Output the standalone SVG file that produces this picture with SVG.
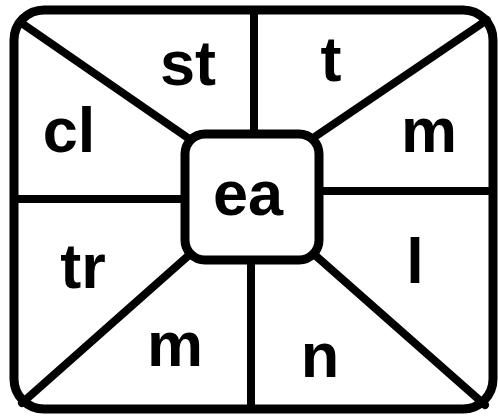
<svg xmlns="http://www.w3.org/2000/svg" width="498" height="417" viewBox="0 0 498 417">
<style>
.box{fill:#fff;stroke:#000;stroke-width:9}
.ln{stroke:#000;stroke-width:8;stroke-linecap:round;fill:none}
.lbl{font-family:"Liberation Sans",Arial,sans-serif;font-weight:bold;font-size:63px;fill:#000;text-anchor:middle}
</style>
<rect width="498" height="417" fill="#fff"/>
<g id="frame"><rect class="box" x="14" y="10" width="479" height="399" rx="30"/></g>
<g id="connectors">
<line class="ln" x1="254" y1="10" x2="254" y2="134"/>
<line class="ln" x1="251" y1="260" x2="251" y2="409"/>
<line class="ln" x1="14" y1="199" x2="185" y2="199"/>
<line class="ln" x1="319" y1="191" x2="493" y2="191"/>
<line class="ln" x1="20" y1="22" x2="188" y2="138"/>
<line class="ln" x1="487" y1="20" x2="316" y2="136"/>
<line class="ln" x1="22" y1="403" x2="188" y2="256"/>
<line class="ln" x1="316" y1="256" x2="485" y2="405"/>
</g>
<g id="center"><rect class="box" x="185" y="134" width="134" height="126" rx="20" stroke-width="8"/><text class="lbl" x="248" y="215">ea</text></g>
<g id="n-st"><text class="lbl" x="188" y="85">st</text></g>
<g id="n-t"><text class="lbl" x="331" y="81">t</text></g>
<g id="n-m1"><text class="lbl" x="429" y="152">m</text></g>
<g id="n-cl"><text class="lbl" x="69" y="152">cl</text></g>
<g id="n-tr"><text class="lbl" x="83" y="288">tr</text></g>
<g id="n-l"><text class="lbl" x="415" y="283">l</text></g>
<g id="n-m2"><text class="lbl" x="175" y="366">m</text></g>
<g id="n-n"><text class="lbl" x="320" y="377">n</text></g>
</svg>
